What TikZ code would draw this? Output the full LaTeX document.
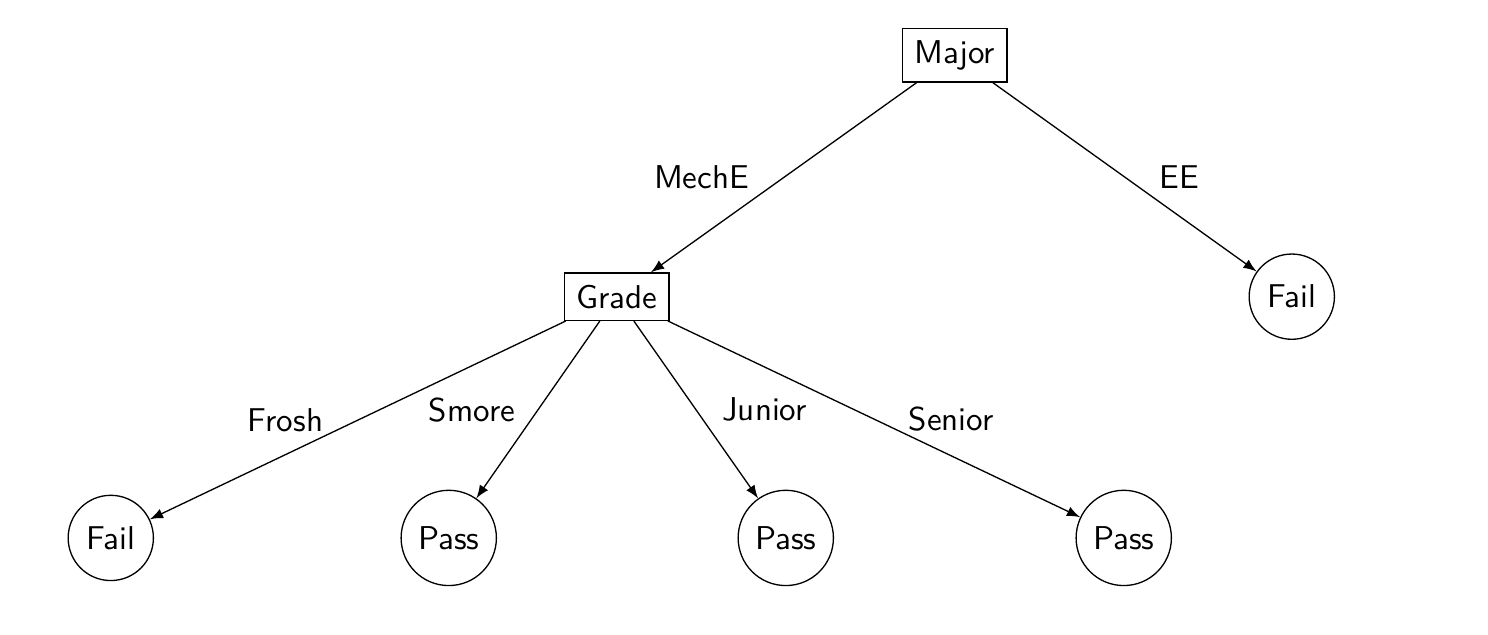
\documentclass[tikz,border=0pt]{standalone}
\usepackage{tikz}
\usetikzlibrary{arrows}

\begin{document}
\begin{tikzpicture}[font=\sffamily,
		test/.style={draw, rectangle, inner sep=3.6pt},
		leaf/.style={draw, circle, inner sep=3.4pt},
		branch/.style={-latex},
		lbl/.style={midway, inner sep=3.3pt}]
		\useasboundingbox (0,0) rectangle (15.85,-6.76);
		% tree nodes
		\node[test] (major) at (10.17,-0.59) {Major};
		\node[test] (grade) at (6.57,-3.16) {Grade};
		\node[leaf] (eefail) at (13.76,-3.16) {Fail};
		\node[leaf] (frosh) at (1.18,-5.73) {Fail};
		\node[leaf] (smore) at (4.78,-5.73) {Pass};
		\node[leaf] (junior) at (8.37,-5.73) {Pass};
		\node[leaf] (senior) at (11.97,-5.73) {Pass};
		% branches
		\draw[branch] (major) -- node[lbl, left=7pt] {MechE} (grade);
		\draw[branch] (major) -- node[lbl, right=7pt] {EE} (eefail);
		\draw[branch] (grade) -- node[lbl, left=7pt] {Frosh} (frosh);
		\draw[branch] (grade) -- node[lbl, left=3.5pt] {Smore} (smore);
		\draw[branch] (grade) -- node[lbl, right=4.5pt] {Junior} (junior);
		\draw[branch] (grade) -- node[lbl, right=7pt] {Senior} (senior);
	\end{tikzpicture}
\end{document}
